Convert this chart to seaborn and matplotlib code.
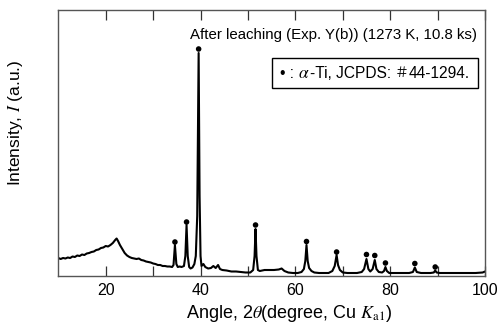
import matplotlib
matplotlib.use("Agg")
import matplotlib.pyplot as plt
from matplotlib.offsetbox import TextArea, HPacker, AnchoredOffsetbox
import seaborn as sns
import pandas as pd

# XRD pattern: 2theta (degree) and intensity (a.u.)
angle = [10.0, 10.5, 11.0, 11.5, 12.0, 12.5, 13.0, 13.5, 14.0, 14.5, 15.0, 15.5,
         16.0, 16.5, 17.0, 17.5, 18.0, 18.5, 19.0, 19.5, 20.0, 20.5, 21.0, 21.5,
         22.0, 22.3, 22.6, 23.0, 23.5, 24.0, 24.5, 25.0, 25.5, 26.0, 26.5, 27.0,
         27.5, 28.0, 28.5, 29.0, 29.5, 30.0, 30.5, 31.0, 31.5, 32.0, 32.5, 33.0,
         33.5, 34.0, 34.3, 34.6, 34.9, 35.2, 35.6, 36.0, 36.5, 36.8, 37.05, 37.3,
         37.6, 37.9, 38.3, 38.7, 39.0, 39.3, 39.6, 39.8, 40.0, 40.2, 40.6, 41.0,
         41.6, 42.2, 42.7, 43.2, 43.7, 44.1, 44.6, 45.5, 46.5, 47.5, 48.5, 49.5,
         50.5, 51.1, 51.4, 51.6, 51.8, 52.1, 52.5, 53.5, 54.5, 55.5, 56.5, 57.1,
         57.7, 58.5, 59.5, 60.5, 61.3, 61.8, 62.1, 62.35, 62.6, 62.9, 63.4, 64.0,
         65.0, 66.0, 67.0, 67.8, 68.3, 68.7, 69.0, 69.4, 70.0, 71.0, 72.0, 73.0,
         74.0, 74.5, 75.0, 75.4, 75.8, 76.3, 76.75, 77.1, 77.6, 78.3, 78.7, 79.0,
         79.3, 79.8, 81.0, 82.0, 83.0, 84.0, 84.8, 85.2, 85.6, 86.5, 87.5, 88.5,
         89.2, 89.5, 89.8, 90.5, 92.0, 94.0, 96.0, 98.0, 99.5, 100.0]
intensity = [18, 17, 18, 17.5, 18.5, 18, 19.5, 19, 20.5, 20, 21.5, 21,
             22.5, 23, 24, 24.5, 26, 26.5, 28, 28.5, 30, 29.5, 31, 33,
             36, 37.5, 35, 31, 27, 23, 20.5, 19, 18, 17.5, 17, 17.5,
             16, 15.5, 14.5, 14, 13.5, 12.5, 12, 11, 11, 10, 10, 9.5,
             9.5, 9, 11, 31, 12, 9, 9.5, 9, 10, 20, 51, 20,
             9, 7.5, 8.5, 12, 20, 60, 223, 80, 20, 10, 12, 9,
             7.5, 8, 10, 8, 11, 7, 6, 5.5, 4.5, 4.5, 4, 3.5,
             3.5, 6, 20, 47, 20, 6, 5, 6, 6, 6, 6.5, 7.5,
             5, 3.5, 3, 3, 4, 7, 15, 31, 15, 8, 5, 3.5,
             3, 3, 3, 5, 10, 21, 11, 6, 3.5, 3, 3, 3,
             4, 7, 17, 7, 4.5, 7, 16, 7, 4, 3.5, 5, 9,
             5, 3, 3, 3, 3, 3, 4, 8.5, 4, 3, 3, 3,
             3.5, 5.5, 3.5, 3, 3, 3, 3, 3, 3.5, 4.5]

# alpha-Ti peak markers
peak_angle = [34.6, 37.05, 39.6, 51.6, 62.35, 68.7, 75.0, 76.75, 79.0, 85.2, 89.5]
peak_mark = [34, 54, 227, 51, 34.5, 24, 21.5, 20.5, 13, 12.5, 9]

df = pd.DataFrame({"angle": angle, "intensity": intensity})
peaks = pd.DataFrame({"angle": peak_angle, "mark": peak_mark})

sns.set_style("ticks")
plt.rcParams["font.family"] = ["Liberation Sans", "Noto Sans CJK JP", "DejaVu Sans"]
plt.rcParams["mathtext.fontset"] = "stix"
plt.rcParams["text.color"] = "black"
plt.rcParams["axes.labelcolor"] = "black"

fig = plt.figure(figsize=(4.97, 3.29), dpi=100)
ax = fig.add_axes([58.3 / 497, 53 / 329, 426.7 / 497, 266 / 329])

sns.lineplot(data=df, x="angle", y="intensity", color="black", linewidth=1.5, ax=ax)
sns.scatterplot(data=peaks, x="angle", y="mark", color="black", s=16,
                edgecolor="none", ax=ax, zorder=3)

ax.set_xlim(10, 100)
ax.set_ylim(0, 266)
ax.set_xticks([20, 40, 60, 80, 100])
ax.set_xticks([30, 50, 70, 90], minor=True)
ax.set_yticks([])
ax.tick_params(axis="x", which="both", direction="in", top=True, bottom=True,
               length=7, width=0.9, color="#333333", labelcolor="black",
               labelsize=11.5, pad=5)
for s in ax.spines.values():
    s.set_color("#555555")
    s.set_linewidth(1.0)

ax.set_xlabel(r"Angle, 2$\theta$(degree, Cu $K_{\mathrm{a1}}$)", fontsize=13)
ax.xaxis.set_label_coords(0.542, -0.102)
ax.set_ylabel(r"Intensity, $I$ (a.u.)", fontsize=12.5)
ax.yaxis.set_label_coords(-0.078, 0.577)

ax.text(37.75, 241, "After leaching (Exp. Y(b)) (1273 K, 10.8 ks)",
        fontsize=10.8, ha="left", va="center")

# legend-like box with mixed fonts
tp = dict(fontsize=11.2, family="Liberation Sans")
parts = [
    TextArea("\u2022 : ", textprops=tp),
    TextArea(r"$\alpha$", textprops=dict(fontsize=12.5)),
    TextArea("-Ti, JCPDS: ", textprops=tp),
    TextArea("\uff03", textprops=dict(fontsize=10, family="Noto Sans CJK JP")),
    TextArea("44-1294.", textprops=tp),
]
box = HPacker(children=parts, align="baseline", pad=0, sep=0)
anch = AnchoredOffsetbox(loc="center", child=box, pad=0.55, borderpad=0,
                         frameon=True, bbox_to_anchor=(375 / 497, (329 - 73) / 329),
                         bbox_transform=fig.transFigure)
anch.patch.set_edgecolor("black")
anch.patch.set_linewidth(1.0)
anch.patch.set_boxstyle("square", pad=0)
ax.add_artist(anch)

fig.savefig("out.png", dpi=100)
